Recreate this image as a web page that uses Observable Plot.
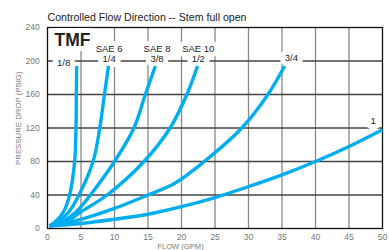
<!DOCTYPE html>
<html>
<head>
<meta charset="utf-8">
<script src="https://cdn.jsdelivr.net/npm/d3@7"></script>
<script src="https://cdn.jsdelivr.net/npm/@observablehq/plot@0.6"></script>
<style>
  html, body { margin: 0; padding: 0; background: #fff; }
  #chart svg { display: block; font-family: "Liberation Sans", Arial, sans-serif; }
</style>
</head>
<body>
<div id="chart"></div>
<script>
// ---- data ----
const title = "Controlled Flow Direction -- Stem full open";
const xLabel = "FLOW (GPM)";
const yLabel = "PRESSURE DROP (PSIG)";
const xTicks = [0, 5, 10, 15, 20, 25, 30, 35, 40, 45, 50];
const yTicks = [0, 40, 80, 120, 160, 200, 240];

const sizes = ["1/8", "1/4", "3/8", "1/2", "3/4", "1"];
const flow_1_8 = [0.3, 1.4, 2.4, 3.3, 4.05, 4.25, 4.3, 4.35];
const psi_1_8  = [3, 10, 20, 40, 80, 120, 160, 194];
const flow_1_4 = [0.3, 1.9, 3.2, 4.7, 6.8, 7.8, 8.5, 9.1];
const psi_1_4  = [3, 10, 20, 40, 80, 120, 160, 194];
const flow_3_8 = [0.3, 2.6, 4.3, 6.4, 10.0, 12.9, 14.6, 16.1];
const psi_3_8  = [3, 10, 20, 40, 80, 120, 160, 194];
const flow_1_2 = [0.3, 3.0, 5.0, 8.9, 14.4, 18.3, 20.8, 22.4];
const psi_1_2  = [3, 9, 20, 40, 80, 120, 160, 194];
const flow_3_4 = [0.3, 5, 10, 15, 19, 23.4, 29, 32.9, 35.4];
const psi_3_4  = [3, 11, 24, 40, 54, 80, 120, 160, 194];
const flow_1   = [0.3, 5, 10, 15, 20, 25, 30, 35, 40, 45, 50];
const psi_1    = [3, 6, 11, 17, 26, 37, 50, 64, 80, 98, 118];

const model = "TMF";
const labelText = ["1/8", "SAE 6\n1/4", "SAE 8\n3/8", "SAE 10\n1/2", "3/4", "1"];
const labelX = [2.4, 9.2, 16.35, 22.5, 36.4, 48.6];
const labelY = [198, 208.6, 208.6, 208.6, 203.8, 129.3];

// ---- build tables ----
const flows = [flow_1_8, flow_1_4, flow_3_8, flow_1_2, flow_3_4, flow_1];
const psis = [psi_1_8, psi_1_4, psi_3_8, psi_1_2, psi_3_4, psi_1];
const rows = sizes.flatMap((s, i) => flows[i].map((f, j) => ({size: s, flow: f, psi: psis[i][j]})));
const labels = labelText.map((t, i) => ({text: t, x: labelX[i], y: labelY[i]}));
const xGrid = xTicks.slice(1, -1);
const yGrid = yTicks.slice(1, -1);

const FONT = "Liberation Sans, Arial, sans-serif";
const labelOpts = {x: "x", y: "y", text: "text", fontSize: 9.5, lineHeight: 1.08, fontFamily: FONT};
const modelOpts = {frameAnchor: "top-left", dx: 7, dy: 6, text: d => d, fontSize: 17.5, fontWeight: "bold", fontFamily: FONT};

const chart = Plot.plot({
  width: 389,
  height: 250,
  marginLeft: 47,
  marginRight: 7,
  marginTop: 27,
  marginBottom: 22,
  style: {fontFamily: FONT, fontSize: "8.6px", color: "#777", background: "#fff"},
  x: {domain: [0, 50], ticks: xTicks, tickSize: 0, tickPadding: 5.5, label: null},
  y: {domain: [0, 240], ticks: yTicks, tickSize: 0, tickPadding: 7.7, label: null},
  marks: [
    Plot.ruleX(xGrid, {stroke: "#888", strokeWidth: 1.3}),
    Plot.ruleY(yGrid, {stroke: "#444", strokeWidth: 1.3}),
    Plot.frame({stroke: "#111", strokeWidth: 1.3}),
    // white boxes behind the labels
    Plot.text(labels, {...labelOpts, fill: "white", stroke: "white", strokeWidth: 10, strokeLinejoin: "round"}),
    Plot.text([model], {...modelOpts, fill: "white", stroke: "white", strokeWidth: 10, strokeLinejoin: "round"}),
    Plot.text(labels, {...labelOpts, fill: "#222"}),
    Plot.text([model], {...modelOpts, fill: "#222"}),
    Plot.line(rows, {x: "flow", y: "psi", z: "size", stroke: "#00AEEF", strokeWidth: 3.4,
      curve: "catmull-rom", strokeLinecap: "butt"}),
    Plot.text([title], {frameAnchor: "top-left", dy: -14.3, text: d => d, fill: "#222",
      fontSize: 10.6, fontFamily: FONT, letterSpacing: 0.15}),
    Plot.text([yLabel], {frameAnchor: "left", dx: -28.7, dy: -9.8, rotate: -90, text: d => d,
      textAnchor: "middle", lineAnchor: "middle", fill: "#777", fontSize: 7.8, fontFamily: FONT}),
    Plot.text([xLabel], {frameAnchor: "bottom", dx: -34.5, dy: 15.2, lineAnchor: "top", text: d => d,
      fill: "#777", fontSize: 7.6, fontFamily: FONT})
  ]
});
document.getElementById("chart").appendChild(chart);
</script>
</body>
</html>
